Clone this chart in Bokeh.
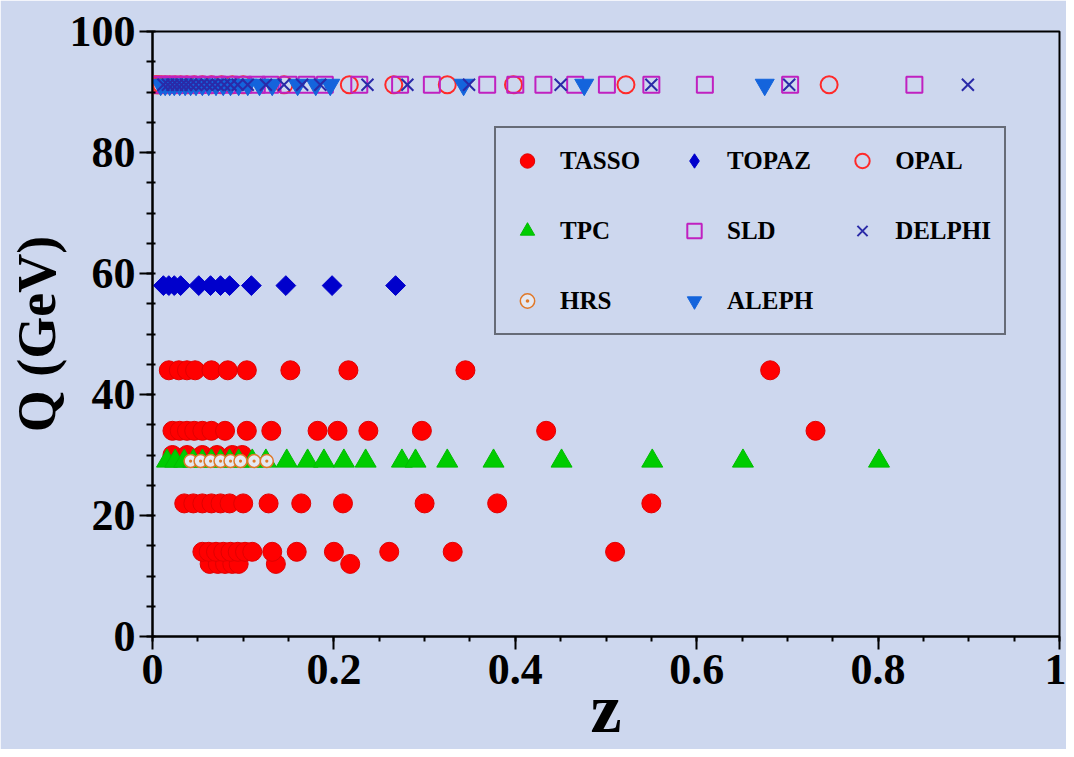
import numpy as np
from bokeh.plotting import figure
from bokeh.models import (ColumnDataSource, Legend, LegendItem, SingleIntervalTicker,
                          NumeralTickFormatter, Range1d)
from bokeh.embed import file_html
from bokeh.resources import INLINE

# ---------------- data (z values per energy Q in GeV) ----------------
tasso_q = [12, 14, 22, 30, 34, 44]
tasso_z = [
    [0.063, 0.072, 0.080, 0.088, 0.095, 0.136, 0.218],
    [0.055, 0.062, 0.070, 0.078, 0.086, 0.094, 0.102, 0.110, 0.132, 0.159, 0.200, 0.261, 0.331, 0.510],
    [0.035, 0.045, 0.055, 0.065, 0.075, 0.085, 0.100, 0.128, 0.164, 0.210, 0.300, 0.380, 0.550],
    [0.022, 0.038, 0.055, 0.071, 0.088, 0.099],
    [0.022, 0.030, 0.038, 0.046, 0.055, 0.065, 0.080, 0.104, 0.131, 0.182, 0.204, 0.238, 0.297, 0.434, 0.731],
    [0.018, 0.029, 0.038, 0.047, 0.065, 0.083, 0.104, 0.152, 0.216, 0.345, 0.681],
]
topaz_q = 58.0
topaz_z = [0.012, 0.018, 0.024, 0.031, 0.051, 0.064, 0.075, 0.085, 0.109, 0.147, 0.198, 0.268]
tpc_q = 29.0
tpc_z = [0.016, 0.025, 0.035, 0.045, 0.055, 0.065, 0.075, 0.085, 0.095, 0.110, 0.125, 0.148,
         0.171, 0.189, 0.211, 0.235, 0.275, 0.290, 0.325, 0.376, 0.451, 0.551, 0.651, 0.801]
hrs_q = 29.0
hrs_z = [0.042, 0.053, 0.064, 0.075, 0.086, 0.097, 0.112, 0.126]
lep_q = 91.2
opal_z = [0.003, 0.005, 0.007, 0.010, 0.014, 0.019, 0.025, 0.031, 0.038, 0.046, 0.055, 0.065,
          0.076, 0.088, 0.100, 0.145, 0.217, 0.266, 0.325, 0.398, 0.522, 0.746]
sld_z = [0.008, 0.015, 0.022, 0.030, 0.040, 0.050, 0.060, 0.072, 0.085, 0.100, 0.115, 0.130,
         0.150, 0.170, 0.190, 0.228, 0.273, 0.308, 0.369, 0.400, 0.431, 0.466, 0.501, 0.550,
         0.609, 0.703, 0.840]
delphi_z = [0.012, 0.017, 0.022, 0.027, 0.032, 0.037, 0.042, 0.048, 0.054, 0.060, 0.066, 0.072,
            0.079, 0.086, 0.094, 0.105, 0.125, 0.145, 0.165, 0.185, 0.237, 0.281, 0.349, 0.450,
            0.550, 0.702, 0.899]
aleph_z = [0.009, 0.014, 0.019, 0.024, 0.030, 0.036, 0.042, 0.048, 0.055, 0.062, 0.070,
           0.078, 0.086, 0.095, 0.105, 0.118, 0.132, 0.160, 0.180, 0.196, 0.343, 0.476,
           0.675]

# ---------------- figure ----------------
BG = "#cdd7ee"
SERIF = "Liberation Serif"

p = figure(width=1066, height=749, x_range=Range1d(0, 1), y_range=Range1d(0, 100),
           output_backend="svg", toolbar_location=None,
           min_border_left=152, min_border_right=7, min_border_top=31, min_border_bottom=113)
p.background_fill_color = BG
p.border_fill_color = BG
p.outline_line_color = "black"
p.outline_line_width = 2
p.grid.visible = False


def src(zs, q):
    return ColumnDataSource(dict(x=list(zs), y=[q] * len(zs)))


tx, ty = [], []
for q, zs in zip(tasso_q, tasso_z):
    tx += zs
    ty += [q] * len(zs)

topaz_src = src(topaz_z, topaz_q)

r_tasso = p.scatter(x="x", y="y", source=ColumnDataSource(dict(x=tx, y=ty)), marker="circle",
                    size=19, fill_color="#ff0000", line_color="#e00000", line_width=1)
r_topaz = p.scatter(x="x", y="y", source=topaz_src, marker="square", angle=np.pi / 4,
                    size=14, fill_color="#0000cc", line_color="#0000cc", line_width=1)
# hidden twin of the TOPAZ series, only used for its diamond legend key
r_topaz_key = p.scatter(x="x", y="y", source=topaz_src, marker="diamond", visible=False,
                        size=14, fill_color="#0000cc", line_color="#0000cc", line_width=1)
r_tpc = p.scatter(x="x", y="y", source=src(tpc_z, tpc_q), marker="triangle",
                  size=21, fill_color="#00cc00", line_color="#00bb00", line_width=1)
r_hrs = p.scatter(x="x", y="y", source=src(hrs_z, hrs_q), marker="circle_dot",
                  size=13, fill_color="#e4e8f2", line_color="#e07828", line_width=1.5)
r_opal = p.scatter(x="x", y="y", source=src(opal_z, lep_q), marker="circle",
                   size=17, fill_color=None, line_color="#ff2a2a", line_width=2)
r_sld = p.scatter(x="x", y="y", source=src(sld_z, lep_q), marker="square",
                  size=16, fill_color=None, line_color="#c020c0", line_width=2)
r_aleph = p.scatter(x="x", y="y", source=src(aleph_z, lep_q), marker="inverted_triangle",
                    size=19, fill_color="#1464dc", line_color="#1464dc", line_width=1)
r_delphi = p.scatter(x="x", y="y", source=src(delphi_z, lep_q), marker="x",
                     size=17, line_color="#2a2aa8", line_width=2)

# ---------------- axes ----------------
xa = p.xaxis[0]
ya = p.yaxis[0]
xa.ticker = SingleIntervalTicker(interval=0.2, num_minor_ticks=4)
ya.ticker = SingleIntervalTicker(interval=20, num_minor_ticks=4)
xa.formatter = NumeralTickFormatter(format="0.[0]")
xa.axis_label = "z"
ya.axis_label = "Q (GeV)"
for ax in (xa, ya):
    ax.axis_line_width = 2
    ax.axis_line_color = "black"
    ax.major_tick_line_width = 2
    ax.minor_tick_line_width = 2
    ax.major_tick_in = 0
    ax.major_tick_out = 13
    ax.major_label_text_font = SERIF
    ax.major_label_text_font_style = "bold"
    ax.major_label_text_font_size = "44px"
    ax.major_label_text_color = "black"
    ax.axis_label_text_font = SERIF
    ax.axis_label_text_font_style = "bold"
    ax.axis_label_text_color = "black"
xa.axis_label_text_font_size = "70px"
ya.axis_label_text_font_size = "54px"
xa.minor_tick_in = 0
xa.minor_tick_out = 5
ya.minor_tick_in = 3
ya.minor_tick_out = 6
xa.major_label_standoff = 5
ya.major_label_standoff = 4
xa.axis_label_standoff = -17
ya.axis_label_standoff = 0

# ---------------- legend ----------------
legend = Legend(items=[
    LegendItem(label="TASSO", renderers=[r_tasso]),
    LegendItem(label="TOPAZ", renderers=[r_topaz_key]),
    LegendItem(label="OPAL", renderers=[r_opal]),
    LegendItem(label="TPC", renderers=[r_tpc]),
    LegendItem(label="SLD", renderers=[r_sld]),
    LegendItem(label="DELPHI", renderers=[r_delphi]),
    LegendItem(label="HRS", renderers=[r_hrs]),
    LegendItem(label="ALEPH", renderers=[r_aleph]),
], orientation="horizontal", ncols=3, location=(342, 301))
legend.label_text_font = SERIF
legend.label_text_font_style = "bold"
legend.label_text_font_size = "25px"
legend.label_text_color = "black"
legend.glyph_width = 36
legend.glyph_height = 39
legend.label_height = 39
legend.label_width = 85
legend.label_standoff = 15
legend.spacing = 31
legend.padding = 13
legend.margin = 0
legend.border_line_color = "black"
legend.border_line_width = 2
legend.background_fill_alpha = 0
legend.inactive_fill_alpha = 0
legend.click_policy = "none"
p.add_layout(legend)

open("out.html", "w").write(file_html(p, INLINE))
